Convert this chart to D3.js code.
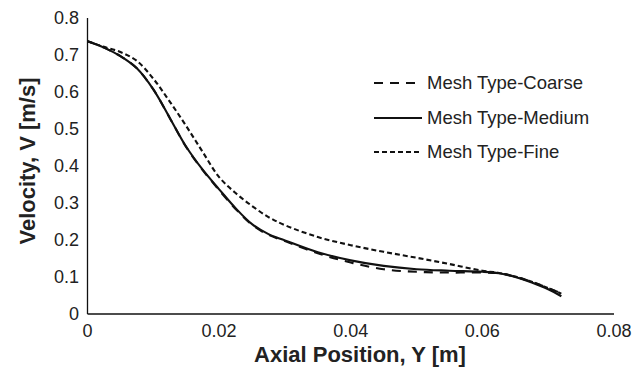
<!DOCTYPE html>
<html><head><meta charset="utf-8">
<script src="https://cdn.jsdelivr.net/npm/d3@7/dist/d3.min.js"></script>
<style>body{margin:0;background:#fff}svg{display:block}text{font-family:"Liberation Sans",Arial,sans-serif;fill:#222}</style>
</head><body><svg id="c" width="644" height="374"></svg>
<script>
const xPos = [0, 0.0025, 0.005, 0.0075, 0.01, 0.0125, 0.015, 0.0175, 0.02, 0.0225, 0.025, 0.0275, 0.03, 0.035, 0.04, 0.045, 0.05, 0.055, 0.06, 0.0625, 0.065, 0.0675, 0.07, 0.072];
const coarse = [0.737, 0.720, 0.697, 0.664, 0.607, 0.530, 0.451, 0.389, 0.335, 0.284, 0.241, 0.214, 0.197, 0.164, 0.139, 0.121, 0.114, 0.112, 0.112, 0.110, 0.101, 0.087, 0.070, 0.056];
const medium = [0.737, 0.720, 0.697, 0.664, 0.607, 0.530, 0.452, 0.390, 0.337, 0.286, 0.243, 0.216, 0.199, 0.167, 0.145, 0.130, 0.121, 0.117, 0.114, 0.110, 0.100, 0.085, 0.067, 0.048];
const fine   = [0.737, 0.722, 0.708, 0.684, 0.636, 0.574, 0.508, 0.438, 0.370, 0.327, 0.292, 0.262, 0.240, 0.208, 0.186, 0.168, 0.152, 0.135, 0.117, 0.111, 0.101, 0.087, 0.070, 0.055];
const xTicks = [0, 0.02, 0.04, 0.06, 0.08];
const yTicks = [0, 0.1, 0.2, 0.3, 0.4, 0.5, 0.6, 0.7, 0.8];
const seriesNames = ["Mesh Type-Coarse", "Mesh Type-Medium", "Mesh Type-Fine"];

const series = [
  {name: seriesNames[0], vals: coarse, dash: "9,7"},
  {name: seriesNames[1], vals: medium, dash: null},
  {name: seriesNames[2], vals: fine, dash: "5,3"}
];

const svg = d3.select("#c");
const x = d3.scaleLinear().domain([0, 0.08]).range([87.5, 614]);
const y = d3.scaleLinear().domain([0, 0.8]).range([314, 18]);

// axes lines
svg.append("line").attr("x1", x(0)).attr("x2", x(0)).attr("y1", y(0)).attr("y2", y(0.8)).attr("stroke", "#111").attr("stroke-width", 1.3);
svg.append("line").attr("x1", x(0)).attr("x2", x(0.08)).attr("y1", y(0)).attr("y2", y(0)).attr("stroke", "#111").attr("stroke-width", 1.3);

// tick labels
const fmt = v => v === 0 ? "0" : String(+v.toFixed(2));
svg.selectAll(".yt").data(yTicks).enter().append("text")
  .attr("x", 79).attr("y", d => y(d)).attr("dy", "0.35em").attr("text-anchor", "end")
  .attr("font-size", 18).text(fmt);
svg.selectAll(".xt").data(xTicks).enter().append("text")
  .attr("x", d => x(d)).attr("y", 337).attr("text-anchor", "middle")
  .attr("font-size", 18).text(fmt);

// titles
svg.append("text").attr("x", 360).attr("y", 362).attr("text-anchor", "middle")
  .attr("font-size", 22).attr("font-weight", "bold").text("Axial Position, Y [m]");
svg.append("text").attr("transform", "translate(35,161) rotate(-90)").attr("text-anchor", "middle")
  .attr("font-size", 22).attr("font-weight", "bold").text("Velocity, V [m/s]");

// lines
const line = d3.line().x((d, i) => x(xPos[i])).y(d => y(d)).curve(d3.curveCatmullRom.alpha(0.5));
series.forEach(s => {
  svg.append("path").attr("d", line(s.vals)).attr("fill", "none").attr("stroke", "#111")
    .attr("stroke-width", 2.1).attr("stroke-dasharray", s.dash);
});

// legend
const ly = [83, 118, 152];
series.forEach((s, i) => {
  svg.append("line").attr("x1", 374).attr("x2", 422).attr("y1", ly[i]).attr("y2", ly[i])
    .attr("stroke", "#111").attr("stroke-width", 2).attr("stroke-dasharray", s.dash);
  svg.append("text").attr("x", 427).attr("y", ly[i]).attr("dy", "0.35em")
    .attr("font-size", 18.5).text(s.name);
});
</script></body></html>
